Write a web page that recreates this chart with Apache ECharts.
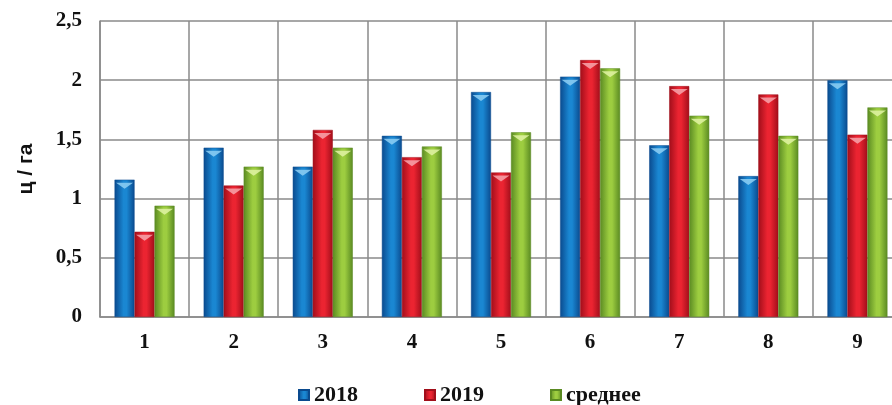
<!DOCTYPE html>
<html>
<head>
<meta charset="utf-8">
<script src="https://cdn.jsdelivr.net/npm/echarts@6/dist/echarts.min.js"></script>
<style>
  html, body { margin: 0; padding: 0; background: #fff; overflow: hidden; }
  #chart { width: 902px; height: 405px; }
</style>
</head>
<body>
<div id="chart"></div>
<script>
// Yield per site, ц/га
const categories = ['1', '2', '3', '4', '5', '6', '7', '8', '9'];
const yield2018 = [1.16, 1.43, 1.27, 1.53, 1.90, 2.03, 1.45, 1.19, 2.00];
const yield2019 = [0.72, 1.11, 1.58, 1.35, 1.22, 2.17, 1.95, 1.88, 1.54];
const yieldAvg  = [0.94, 1.27, 1.43, 1.44, 1.56, 2.10, 1.70, 1.53, 1.77];
const seriesNames = ['2018', '2019', 'среднее'];
const yTicks = { min: 0, max: 2.5, interval: 0.5 };

const palettes = [
  { edge: '#0a4a8e', mid: '#1a87d2', cap: '#8fd0f5' },
  { edge: '#a10e1a', mid: '#eb2431', cap: '#f7a6ad' },
  { edge: '#5a8a22', mid: '#9dcd40', cap: '#e2f3a6' }
];

function barGradient(p) {
  return new echarts.graphic.LinearGradient(0, 0, 1, 0, [
    { offset: 0, color: p.edge },
    { offset: 0.45, color: p.mid },
    { offset: 0.6, color: p.mid },
    { offset: 1, color: p.edge }
  ]);
}

const seriesData = [yield2018, yield2019, yieldAvg];
const barW = 20;
const series = [];
seriesData.forEach((d, i) => {
  series.push({
    name: seriesNames[i],
    type: 'bar',
    data: d,
    barWidth: barW,
    barGap: '0%',
    itemStyle: { color: barGradient(palettes[i]), borderColor: palettes[i].edge, borderWidth: 0.5 }
  });
});
// chevron caps on top of each bar
seriesData.forEach((d, i) => {
  series.push({
    type: 'pictorialBar',
    data: d,
    symbol: 'triangle',
    symbolRotate: 180,
    symbolSize: [17, 6],
    symbolPosition: 'end',
    symbolOffset: [(i - 1) * barW, '50%'],
    itemStyle: { color: palettes[i].cap, opacity: 0.85 },
    z: 5,
    silent: true
  });
});

const chart = echarts.init(document.getElementById('chart'));
chart.setOption({
  animation: false,
  grid: { left: 100, top: 21, right: 0, height: 296 },
  legend: {
    data: seriesNames.map((n, i) => ({
      name: n,
      itemStyle: { color: barGradient(palettes[i]) }
    })),
    left: 293,
    top: 379,
    icon: 'rect',
    itemWidth: 10,
    itemHeight: 10,
    itemGap: 66,
    textStyle: { fontFamily: 'Liberation Serif', fontWeight: 'bold', fontSize: 22, color: '#111' }
  },
  xAxis: {
    type: 'category',
    data: categories,
    axisTick: { show: false },
    axisLine: { lineStyle: { color: '#8a8a8a', width: 1.5 } },
    splitLine: { show: true, interval: 0, lineStyle: { color: '#8a8a8a', width: 1.5 } },
    axisLabel: { margin: 15, fontFamily: 'Liberation Serif', fontWeight: 'bold', fontSize: 21, color: '#111' }
  },
  yAxis: {
    type: 'value',
    min: yTicks.min,
    max: yTicks.max,
    interval: yTicks.interval,
    name: 'ц / га',
    nameLocation: 'middle',
    nameGap: 63,
    nameTextStyle: { fontFamily: 'Liberation Sans', fontWeight: 'bold', fontSize: 21, color: '#111' },
    axisLine: { show: true, lineStyle: { color: '#8a8a8a', width: 1.5 } },
    axisTick: { show: false },
    splitLine: { lineStyle: { color: '#8a8a8a', width: 1.5 } },
    axisLabel: {
      margin: 18,
      fontFamily: 'Liberation Serif', fontWeight: 'bold', fontSize: 21, color: '#111',
      formatter: v => String(v).replace('.', ',')
    }
  },
  series: series
});
</script>
</body>
</html>
